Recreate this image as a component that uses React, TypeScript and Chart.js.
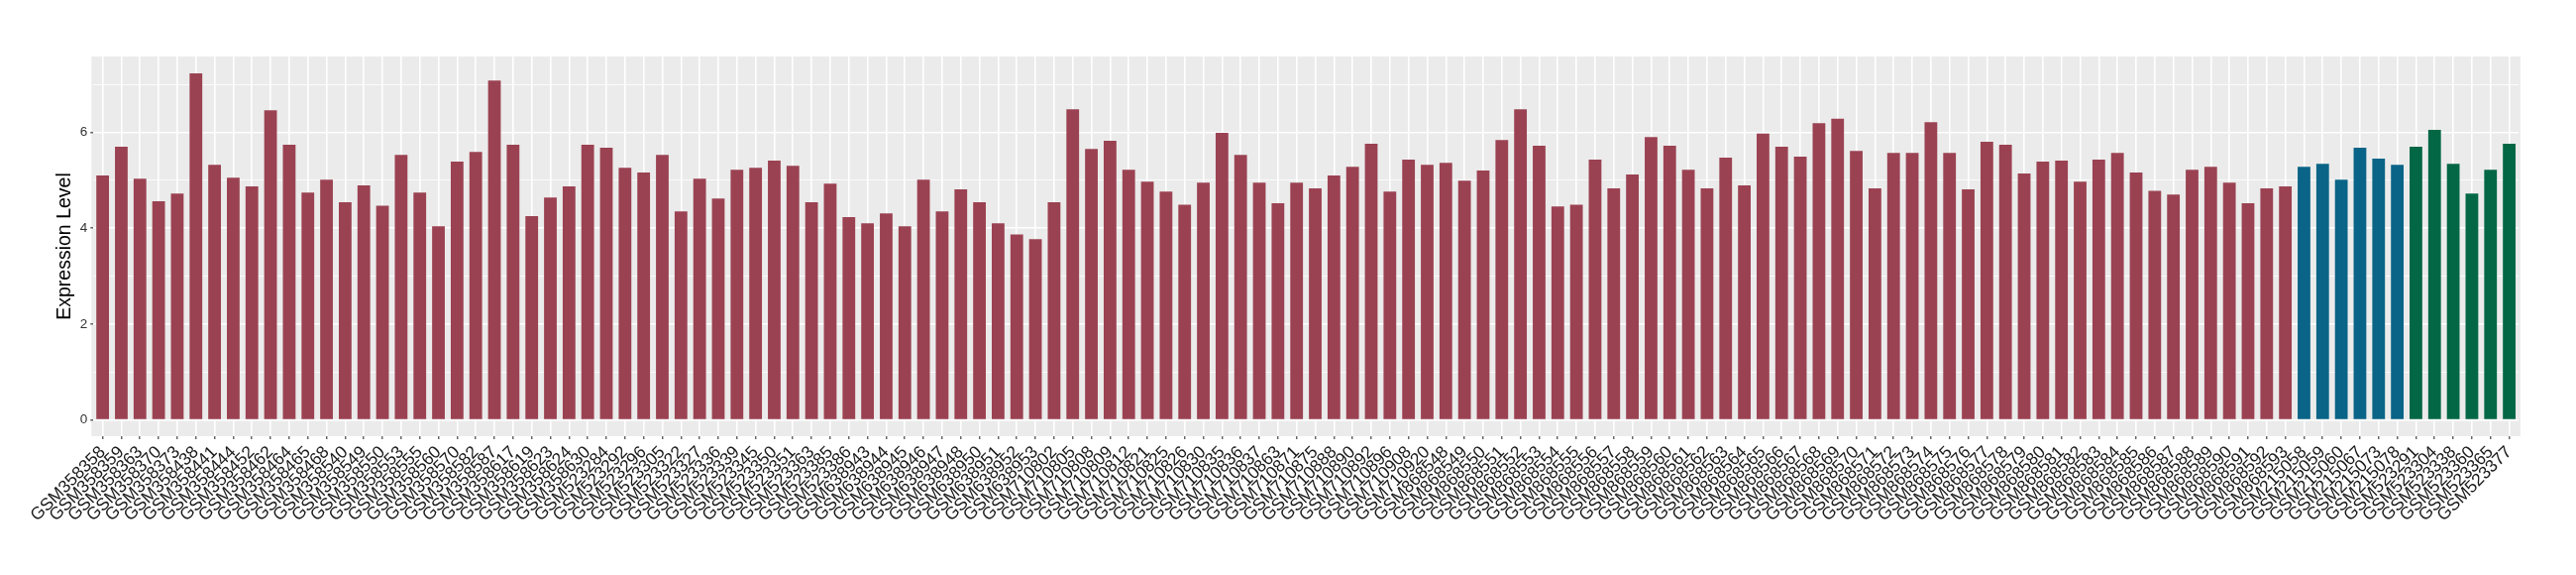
import React, { useEffect, useRef } from "react";
import { Chart, registerables } from "chart.js";

Chart.register(...registerables);

// Group 1 (maroon) sample IDs and expression levels
const groupALabels = [
  "GSM358358", "GSM358359", "GSM358363", "GSM358370", "GSM358373", "GSM358438", "GSM358441", "GSM358444",
  "GSM358452", "GSM358462", "GSM358464", "GSM358465", "GSM358468", "GSM358540", "GSM358549", "GSM358550",
  "GSM358553", "GSM358555", "GSM358560", "GSM358570", "GSM358582", "GSM358587", "GSM358617", "GSM358619",
  "GSM358623", "GSM358624", "GSM358630",
  "GSM523284", "GSM523292", "GSM523296", "GSM523305", "GSM523322", "GSM523327", "GSM523336", "GSM523339",
  "GSM523345", "GSM523350", "GSM523351", "GSM523363", "GSM523385", "GSM523386",
  "GSM638943", "GSM638944", "GSM638945", "GSM638946", "GSM638947", "GSM638948", "GSM638950", "GSM638951",
  "GSM638952", "GSM638953",
  "GSM710802", "GSM710805", "GSM710808", "GSM710809", "GSM710812", "GSM710821", "GSM710825", "GSM710826",
  "GSM710830", "GSM710835", "GSM710836", "GSM710837", "GSM710863", "GSM710871", "GSM710875", "GSM710888",
  "GSM710890", "GSM710892", "GSM710896", "GSM710908", "GSM710920",
  "GSM868548", "GSM868549", "GSM868550", "GSM868551", "GSM868552", "GSM868553", "GSM868554", "GSM868555",
  "GSM868556", "GSM868557", "GSM868558", "GSM868559", "GSM868560", "GSM868561", "GSM868562", "GSM868563",
  "GSM868564", "GSM868565", "GSM868566", "GSM868567", "GSM868568", "GSM868569", "GSM868570", "GSM868571",
  "GSM868572", "GSM868573", "GSM868574", "GSM868575", "GSM868576", "GSM868577", "GSM868578", "GSM868579",
  "GSM868580", "GSM868581", "GSM868582", "GSM868583", "GSM868584", "GSM868585", "GSM868586", "GSM868587",
  "GSM868588", "GSM868589", "GSM868590", "GSM868591", "GSM868592", "GSM868593",
];
const groupAValues = [
  5.10, 5.70, 5.03, 4.56, 4.72, 7.23, 5.32, 5.05, 4.87, 6.46, 5.74, 4.74, 5.01, 4.54, 4.89, 4.47,
  5.53, 4.74, 4.04, 5.39, 5.59, 7.08, 5.74, 4.25, 4.64, 4.87, 5.74,
  5.68, 5.26, 5.16, 5.53, 4.35, 5.03, 4.62, 5.22, 5.26, 5.41, 5.30, 4.54, 4.93, 4.23,
  4.10, 4.31, 4.04, 5.01, 4.35, 4.81, 4.54, 4.10, 3.87, 3.77,
  4.54, 6.48, 5.65, 5.82, 5.22, 4.97, 4.76, 4.49, 4.95, 5.99, 5.53, 4.95, 4.52, 4.95, 4.83, 5.10,
  5.28, 5.76, 4.76, 5.43, 5.32,
  5.36, 4.99, 5.20, 5.84, 6.48, 5.72, 4.45, 4.49, 5.43, 4.83, 5.12, 5.90, 5.72, 5.22, 4.83, 5.47,
  4.89, 5.97, 5.70, 5.49, 6.19, 6.28, 5.61, 4.83, 5.57, 5.57, 6.21, 5.57, 4.81, 5.80, 5.74, 5.14,
  5.39, 5.41, 4.97, 5.43, 5.57, 5.16, 4.78, 4.70, 5.22, 5.28, 4.95, 4.52, 4.83, 4.87,
];

// Group 2 (blue)
const groupBLabels = ["GSM215058", "GSM215059", "GSM215060", "GSM215067", "GSM215073", "GSM215078"];
const groupBValues = [5.28, 5.34, 5.01, 5.68, 5.45, 5.32];

// Group 3 (green)
const groupCLabels = ["GSM523291", "GSM523304", "GSM523338", "GSM523360", "GSM523365", "GSM523377"];
const groupCValues = [5.70, 6.05, 5.34, 4.72, 5.22, 5.76];

const yGridValues = [0, 1, 2, 3, 4, 5, 6, 7];
const yLabelValues = [0, 2, 4, 6];

const COLOR_A = "#9B4252";
const COLOR_B = "#0A6487";
const COLOR_C = "#036745";
const FONT = "'Liberation Sans', Arial, Helvetica, sans-serif";

export default function App() {
  const canvasRef = useRef<HTMLCanvasElement | null>(null);

  useEffect(() => {
    const labels = [...groupALabels, ...groupBLabels, ...groupCLabels];
    const values = [...groupAValues, ...groupBValues, ...groupCValues];
    const colors = [
      ...groupAValues.map(() => COLOR_A),
      ...groupBValues.map(() => COLOR_B),
      ...groupCValues.map(() => COLOR_C),
    ];

    const panelBg = {
      id: "panelBg",
      beforeDraw(chart: any) {
        const { ctx, chartArea } = chart;
        const unit = (chartArea.right - chartArea.left) / labels.length;
        const ext = unit * 0.1;
        ctx.save();
        ctx.fillStyle = "#EBEBEB";
        ctx.fillRect(
          chartArea.left - ext,
          chartArea.top,
          chartArea.right - chartArea.left + 2 * ext,
          chartArea.bottom - chartArea.top
        );
        ctx.restore();
      },
    };

    const chart = new Chart(canvasRef.current as HTMLCanvasElement, {
      type: "bar",
      data: {
        labels,
        datasets: [
          {
            data: values,
            backgroundColor: colors,
            barPercentage: 0.68,
            categoryPercentage: 1,
          },
        ],
      },
      options: {
        animation: false,
        responsive: false,
        devicePixelRatio: 1,
        layout: { padding: { top: 57, right: 58, bottom: 0, left: 0 } },
        plugins: { legend: { display: false }, tooltip: { enabled: false } },
        scales: {
          x: {
            border: { display: false },
            grid: {
              offset: false,
              color: "#FFFFFF",
              lineWidth: 1.6,
              drawTicks: true,
              tickLength: 3,
              tickColor: "#333333",
              tickWidth: 1.1,
            },
            ticks: {
              autoSkip: false,
              minRotation: 45,
              maxRotation: 45,
              padding: 3,
              color: "#1A1A1A",
              font: { family: FONT, size: 17.5 },
            },
            afterFit: (scale: any) => {
              scale.height = 140;
            },
          },
          y: {
            min: -0.34,
            max: 7.58,
            border: { display: false },
            afterBuildTicks: (scale: any) => {
              scale.ticks = yGridValues.map((v) => ({ value: v }));
            },
            ticks: {
              padding: 3,
              color: "#333333",
              font: { family: FONT, size: 13.5 },
              callback: (v: any) => (yLabelValues.includes(Number(v)) ? String(v) : ""),
            },
            grid: {
              color: "#FFFFFF",
              lineWidth: (ctx: any) => (ctx.tick && ctx.tick.value % 2 === 0 ? 1.6 : 0.8),
              drawTicks: true,
              tickLength: 3,
              tickWidth: 1.1,
              tickColor: (ctx: any) =>
                ctx.tick && ctx.tick.value % 2 === 0 ? "#333333" : "rgba(0,0,0,0)",
            },
            title: {
              display: true,
              text: "Expression Level",
              color: "#000000",
              font: { family: FONT, size: 19.5 },
              padding: { top: 53.6, bottom: 0 },
            },
            afterFit: (scale: any) => {
              scale.width = 94.2;
            },
          },
        },
      },
      plugins: [panelBg],
    });

    return () => chart.destroy();
  }, []);

  return (
    <div style={{ position: "absolute", left: 0, top: 0, width: 2600, height: 580, background: "#FFFFFF" }}>
      <canvas ref={canvasRef} width={2600} height={580} style={{ display: "block" }} />
    </div>
  );
}
